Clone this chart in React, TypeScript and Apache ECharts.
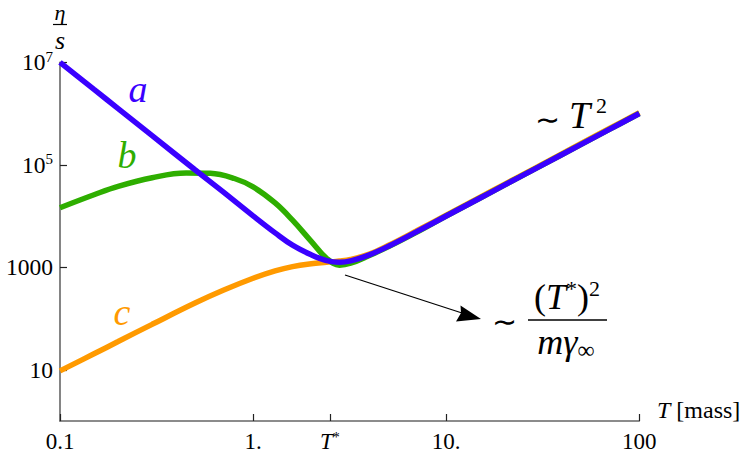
import React, { useEffect, useRef } from "react";
import * as echarts from "echarts";

// ---------- data ----------
const T_A = [0.1, 0.15, 0.2, 0.3, 0.5, 0.7, 1, 1.3, 1.6, 2, 2.4, 2.8, 3.2, 4, 5, 7, 10, 15, 20, 30, 50, 70, 100];
const A_VALUES = [1.0e7, 2.96e6, 1.25e6, 3.7e5, 8.0e4, 2.95e4, 1.01e4, 4.7e3, 2.7e3, 1.75e3, 1.35e3, 1.25e3, 1.33e3, 1.75e3, 2.55e3, 4.9e3, 1.0e4, 2.25e4, 4.0e4, 9.0e4, 2.5e5, 4.9e5, 1.0e6];

const T_B = [0.1, 0.15, 0.2, 0.3, 0.45, 0.6, 0.8, 1, 1.3, 1.6, 2, 2.4, 2.8, 3.2, 4, 5, 7, 10, 15, 20, 30, 50, 70, 100];
const B_VALUES = [1.45e4, 2.6e4, 3.8e4, 5.6e4, 6.9e4, 6.8e4, 5.4e4, 3.7e4, 1.8e4, 8.3e3, 3.2e3, 1.5e3, 1.1e3, 1.2e3, 1.7e3, 2.5e3, 4.8e3, 1.0e4, 2.25e4, 4.0e4, 9.0e4, 2.5e5, 4.9e5, 1.0e6];

const T_C = [0.1, 0.15, 0.2, 0.3, 0.5, 0.7, 1, 1.3, 1.6, 2, 2.4, 2.8, 3.2, 4, 5, 7, 10, 15, 20, 30, 50, 70, 100];
const C_VALUES = [9.5, 20.5, 35.5, 77, 200, 355, 610, 850, 1.03e3, 1.17e3, 1.25e3, 1.32e3, 1.42e3, 1.8e3, 2.65e3, 5.1e3, 1.04e4, 2.34e4, 4.15e4, 9.3e4, 2.6e5, 5.1e5, 1.04e6];

const X_TICKS = [0.1, 1, 2.5, 10, 100];
const X_TICK_LABELS = ["0.1", "1.", "{i|T}{s|*}", "10.", "100"];
const Y_TICKS = [10, 1000, 1e5, 1e7];
const Y_TICK_LABELS = ["10", "1000", "{n|10}{s|5}", "{n|10}{s|7}"];

const SERIF = "'Liberation Serif'";
const BLUE = "#3a00ff";
const GREEN = "#2eae00";
const ORANGE = "#ff9a00";

const zip = (xs: number[], ys: number[]) => xs.map((x, i) => [x, ys[i]]);

export default function App() {
  const ref = useRef<HTMLDivElement>(null);
  useEffect(() => {
    if (!ref.current) return;
    const chart = echarts.init(ref.current, undefined, { renderer: "svg" });
    const lineSeries = (name: string, data: number[][], color: string) => ({
      name,
      type: "line",
      data,
      smooth: 0.4,
      showSymbol: false,
      symbol: "none",
      lineStyle: { color, width: 5.5 },
      itemStyle: { color },
      clip: true,
    });
    const findLabel = (ticks: number[], labels: string[], v: number) => {
      let best = 0;
      let bd = Infinity;
      ticks.forEach((t, i) => {
        const d = Math.abs(Math.log10(t) - Math.log10(v));
        if (d < bd) { bd = d; best = i; }
      });
      return labels[best];
    };
    const txt = (x: number, y: number, text: string, size: number, opts: any = {}) => ({
      type: "text",
      x,
      y,
      style: {
        text,
        fontFamily: SERIF,
        fontSize: size,
        fontStyle: opts.italic ? "italic" : "normal",
        fill: opts.color || "#000",
        align: opts.align || "center",
        verticalAlign: "middle",
        rich: opts.rich,
      },
    });
    chart.setOption({
      animation: false,
      grid: { left: 60, right: 107.7, top: 62.3, bottom: 40, containLabel: false },
      xAxis: {
        type: "log",
        logBase: 10,
        min: 0.1,
        max: 100,
        axisLine: { show: true, lineStyle: { color: "#666", width: 1.6 } },
        axisTick: { show: true, inside: true, length: 7, customValues: X_TICKS, lineStyle: { color: "#222", width: 1.2 } },
        minorTick: { show: false },
        splitLine: { show: false },
        axisLabel: {
          customValues: X_TICKS,
          margin: 9,
          fontFamily: SERIF,
          fontSize: 23,
          color: "#000",
          formatter: (v: number) => findLabel(X_TICKS, X_TICK_LABELS, v),
          rich: {
            i: { fontFamily: SERIF, fontSize: 23, fontStyle: "italic", color: "#000" },
            s: { fontFamily: SERIF, fontSize: 14, color: "#000", verticalAlign: "top", lineHeight: 14 },
          },
        },
      },
      yAxis: {
        type: "log",
        logBase: 10,
        min: 1,
        max: 1e7,
        axisLine: { show: true, lineStyle: { color: "#666", width: 1.6 } },
        axisTick: { show: true, inside: true, length: 7, customValues: Y_TICKS, lineStyle: { color: "#222", width: 1.2 } },
        minorTick: { show: false },
        splitLine: { show: false },
        axisLabel: {
          customValues: Y_TICKS,
          margin: 7,
          fontFamily: SERIF,
          fontSize: 23.5,
          color: "#000",
          formatter: (v: number) => findLabel(Y_TICKS, Y_TICK_LABELS, v),
          rich: {
            n: { fontFamily: SERIF, fontSize: 23.5, color: "#000", lineHeight: 26 },
            s: { fontFamily: SERIF, fontSize: 15, color: "#000", verticalAlign: "top", lineHeight: 15 },
          },
        },
      },
      series: [
        lineSeries("c", zip(T_C, C_VALUES), ORANGE),
        lineSeries("b", zip(T_B, B_VALUES), GREEN),
        lineSeries("a", zip(T_A, A_VALUES), BLUE),
      ],
      graphic: [
        // y axis name  eta / s
        txt(60, 12, "η", 22, { italic: true }),
        { type: "line", shape: { x1: 53, y1: 24.5, x2: 67, y2: 24.5 }, style: { stroke: "#000", lineWidth: 1.2 } },
        txt(60, 40, "s", 26, { italic: true }),
        // x axis name
        txt(657, 410, "{i|T} [mass]", 24, { align: "left", rich: { i: { fontFamily: SERIF, fontSize: 24, fontStyle: "italic" } } }),
        // curve labels
        txt(138, 89, "a", 38, { italic: true, color: BLUE }),
        txt(127, 155, "b", 38, { italic: true, color: GREEN }),
        txt(122, 312, "c", 38, { italic: true, color: ORANGE }),
        // ~ T^2
        txt(547, 119, "∼", 30),
        txt(569, 115, "T", 38, { italic: true, align: "left" }),
        txt(596, 105, "2", 22, { align: "left" }),
        // arrow
        { type: "line", shape: { x1: 345, y1: 275, x2: 462, y2: 313 }, style: { stroke: "#000", lineWidth: 1.3 } },
        { type: "polygon", shape: { points: [[481, 319], [456, 321.5], [461, 313], [460.5, 305.5]] }, style: { fill: "#000" } },
        // ~ (T*)^2 / (m gamma_inf)
        txt(504, 321, "∼", 30),
        txt(567, 297, "({i|T}{s|*}){s|2}", 36, {
          rich: {
            i: { fontFamily: SERIF, fontSize: 36, fontStyle: "italic", lineHeight: 40 },
            s: { fontFamily: SERIF, fontSize: 22, verticalAlign: "top", lineHeight: 22 },
          },
        }),
        { type: "line", shape: { x1: 528, y1: 320, x2: 607, y2: 320 }, style: { stroke: "#000", lineWidth: 1.5 } },
        txt(566, 342, "{i|mγ}{u|∞}", 36, {
          rich: {
            i: { fontFamily: SERIF, fontSize: 36, fontStyle: "italic", lineHeight: 40 },
            u: { fontFamily: SERIF, fontSize: 24, verticalAlign: "bottom", lineHeight: 24 },
          },
        }),
      ],
    });
    return () => chart.dispose();
  }, []);
  return <div ref={ref} style={{ position: "fixed", left: 0, top: 0, width: 747, height: 461, background: "#fff" }} />;
}
